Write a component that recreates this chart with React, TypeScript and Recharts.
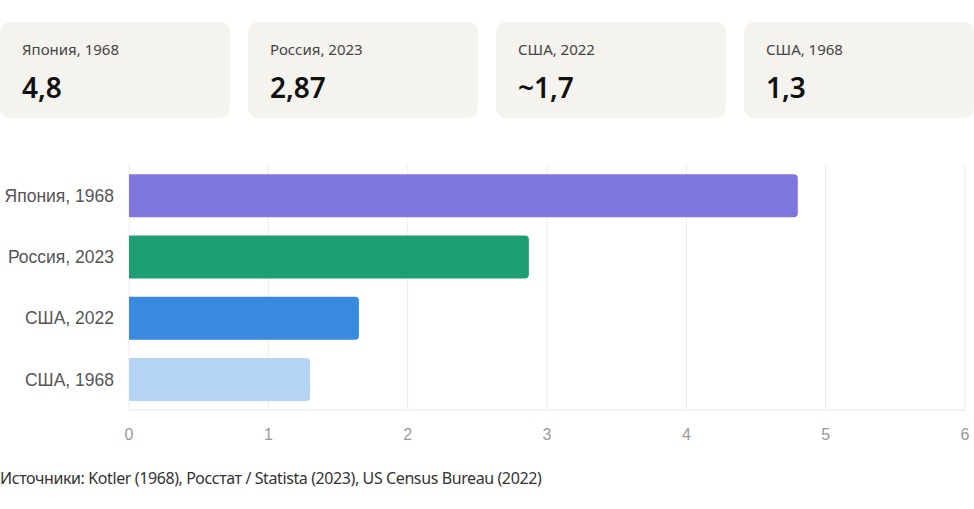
import { BarChart, Bar, XAxis, YAxis, CartesianGrid, Cell } from "recharts";

const categories = ["Япония, 1968", "Россия, 2023", "США, 2022", "США, 1968"];
const values = [4.8, 2.87, 1.65, 1.3];
const cardValues = ["4,8", "2,87", "~1,7", "1,3"];
const barColors = ["#7f77dd", "#1d9e75", "#378add", "#b5d4f4"];
const xTicks = [0, 1, 2, 3, 4, 5, 6];

const data = categories.map((name, i) => ({ name, value: values[i] }));

export default function App() {
  return (
    <div
      style={{
        position: "fixed",
        left: 0,
        top: 0,
        width: 974,
        height: 509,
        background: "#ffffff",
        fontFamily: "'Noto Sans', sans-serif",
        overflow: "hidden",
      }}
    >
      {categories.map((c, i) => (
        <div
          key={c}
          style={{
            position: "absolute",
            left: i * 248,
            top: 22,
            width: 230,
            height: 96,
            background: "#f4f3ee",
            borderRadius: 10,
            boxSizing: "border-box",
            padding: "16px 22px",
          }}
        >
          <div style={{ fontSize: 15, color: "#444", lineHeight: "22px" }}>{c}</div>
          <div
            style={{
              fontSize: 28,
              fontWeight: 600,
              color: "#111",
              marginTop: 9,
              lineHeight: "36px",
            }}
          >
            {cardValues[i]}
          </div>
        </div>
      ))}

      <div style={{ position: "absolute", left: 0, top: 150 }}>
        <BarChart
          width={974}
          height={300}
          data={data}
          layout="vertical"
          margin={{ top: 15, right: 9, bottom: 10, left: 0 }}
          barCategoryGap="15%"
        >
          <CartesianGrid horizontal={false} stroke="#ececec" />
          <XAxis
            type="number"
            domain={[0, 6]}
            ticks={xTicks}
            height={30}
            tickLine={false}
            axisLine={{ stroke: "#e6e6e6" }}
            tickMargin={13}
            tick={{ fill: "#999", fontSize: 16, fontFamily: "'Liberation Sans', Arial, sans-serif" }}
          />
          <YAxis
            type="category"
            dataKey="name"
            width={129}
            tickLine={false}
            axisLine={false}
            tickMargin={9}
            tick={{ fill: "#555", fontSize: 17.5, fontFamily: "'Liberation Sans', Arial, sans-serif" }}
          />
          <Bar dataKey="value" radius={[0, 4, 4, 0]} isAnimationActive={false}>
            {data.map((d, i) => (
              <Cell key={d.name} fill={barColors[i]} />
            ))}
          </Bar>
        </BarChart>
      </div>

      <div
        style={{
          position: "absolute",
          left: 0,
          top: 467,
          fontSize: 16,
          color: "#333",
          fontFamily: "'Noto Sans', sans-serif",
          letterSpacing: -0.4,
        }}
      >
        Источники: Kotler (1968), Росстат / Statista (2023), US Census Bureau (2022)
      </div>
    </div>
  );
}
